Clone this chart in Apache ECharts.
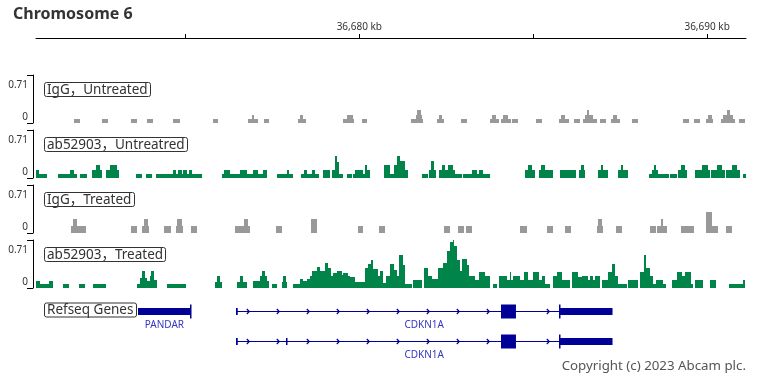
<!DOCTYPE html>
<html><head><meta charset="utf-8">
<script src="https://cdn.jsdelivr.net/npm/echarts@6/dist/echarts.min.js"></script>
<style>html,body{margin:0;padding:0;background:#fff}#c{width:773px;height:384px}</style>
</head><body><div id="c"></div>
<script>
const chartTitle = 'Chromosome 6';
const regionStartKb = 36670.704;
const regionEndKb = 36691.118;
const axisTickKb = [36675, 36680, 36685, 36690];
const axisLabelKb = [36680, 36690];
const axisLabelText = ['36,680 kb', '36,690 kb'];
const trackNames = ['IgG，Untreated', 'ab52903，Untreatred', 'IgG，Treated', 'ab52903，Treated'];
const trackColors = ['#999999', '#00844a', '#999999', '#00844a'];
const trackMax = 0.71;
const yTickValues = [0, 0.71];
const yTickLabels = ['0', '0.71'];
const copyrightText = 'Copyright (c) 2023 Abcam plc.';

// coverage segments: [startKb, endKb, value]
const igGUntreated = [
[36671.80,36671.97,0.06],[36672.59,36672.78,0.06],[36673.44,36673.60,0.06],[36673.89,36674.06,0.06],
[36674.65,36674.84,0.06],[36675.78,36675.95,0.06],
[36676.81,36676.91,0.06],[36676.91,36676.97,0.125],[36676.97,36677.10,0.06],
[36677.26,36677.41,0.06],
[36678.23,36678.29,0.06],[36678.29,36678.39,0.125],[36678.39,36678.47,0.06],
[36679.54,36679.64,0.06],[36679.64,36679.81,0.125],[36679.81,36679.86,0.06],
[36680.07,36680.21,0.06],
[36681.49,36681.62,0.06],[36681.62,36681.67,0.125],[36681.67,36681.76,0.19],[36681.76,36681.79,0.125],[36681.79,36681.84,0.06],
[36682.22,36682.29,0.06],[36682.29,36682.39,0.125],[36682.39,36682.43,0.06],
[36682.92,36683.10,0.06],
[36683.76,36683.82,0.06],[36683.82,36683.92,0.125],[36683.92,36684.02,0.06],
[36684.06,36684.14,0.06],[36684.14,36684.28,0.125],[36684.28,36684.35,0.06],
[36684.38,36684.55,0.06],[36685.08,36685.26,0.06],
[36685.73,36685.80,0.06],[36685.80,36685.91,0.125],[36685.91,36686.03,0.06],
[36686.17,36686.34,0.06],
[36686.44,36686.49,0.06],[36686.49,36686.54,0.125],[36686.54,36686.61,0.19],[36686.61,36686.73,0.125],[36686.73,36686.82,0.06],
[36686.92,36687.09,0.06],
[36687.23,36687.30,0.06],[36687.30,36687.42,0.125],[36687.42,36687.49,0.06],
[36687.83,36688.00,0.06],[36689.30,36689.49,0.06],[36689.62,36689.79,0.06],
[36689.97,36690.03,0.06],[36690.03,36690.13,0.125],[36690.13,36690.18,0.06],
[36690.39,36690.46,0.06],[36690.46,36690.56,0.125],[36690.56,36690.66,0.19],[36690.66,36690.73,0.125],[36690.73,36690.80,0.06],
[36690.91,36691.09,0.06]
];
const ab52903Untreated = [
[36670.70,36670.80,0.12],[36670.80,36671.01,0.06],
[36671.35,36671.51,0.06],
[36671.52,36671.68,0.06],[36671.68,36671.80,0.12],[36671.80,36671.89,0.06],
[36671.97,36672.16,0.06],
[36672.31,36672.42,0.12],[36672.42,36672.54,0.185],[36672.54,36672.59,0.12],
[36672.72,36672.83,0.12],[36672.83,36673.03,0.185],[36673.03,36673.10,0.12],
[36673.58,36673.74,0.06],[36673.87,36674.03,0.06],
[36674.15,36674.65,0.06],[36674.65,36674.73,0.12],[36674.73,36674.80,0.06],[36674.80,36674.89,0.12],[36674.89,36674.94,0.06],[36674.94,36675.04,0.12],[36675.04,36675.11,0.06],[36675.11,36675.18,0.12],[36675.18,36675.47,0.06],
[36676.04,36676.11,0.06],[36676.11,36676.28,0.12],[36676.28,36676.57,0.06],[36676.57,36676.76,0.12],[36676.76,36676.95,0.06],[36676.95,36677.10,0.12],[36677.10,36677.24,0.06],[36677.24,36677.34,0.12],
[36677.62,36677.91,0.06],[36677.91,36677.99,0.12],[36677.99,36678.10,0.06],
[36678.32,36678.41,0.06],[36678.41,36678.50,0.12],[36678.50,36678.63,0.06],[36678.63,36678.73,0.12],[36678.73,36678.84,0.06],
[36678.96,36679.16,0.12],
[36679.21,36679.30,0.12],[36679.30,36679.37,0.32],[36679.37,36679.42,0.24],[36679.42,36679.54,0.06],
[36679.64,36679.78,0.06],
[36679.81,36679.87,0.06],[36679.87,36680.11,0.12],[36680.11,36680.16,0.06],[36680.16,36680.23,0.185],[36680.23,36680.31,0.12],
[36680.71,36680.88,0.185],[36680.88,36681.00,0.06],[36681.00,36681.09,0.185],[36681.09,36681.17,0.32],[36681.17,36681.31,0.25],[36681.31,36681.41,0.12],
[36681.79,36681.98,0.06],
[36682.01,36682.06,0.12],[36682.06,36682.15,0.25],[36682.15,36682.20,0.12],
[36682.30,36682.37,0.12],[36682.37,36682.46,0.185],[36682.46,36682.56,0.12],[36682.56,36682.69,0.185],[36682.69,36682.75,0.12],[36682.75,36682.94,0.06],
[36682.97,36683.23,0.06],[36683.23,36683.38,0.12],[36683.38,36683.44,0.06],[36683.44,36683.56,0.12],[36683.56,36683.76,0.06],
[36684.76,36684.86,0.12],[36684.86,36684.96,0.185],[36684.96,36685.05,0.12],
[36685.17,36685.22,0.12],[36685.22,36685.34,0.185],[36685.34,36685.58,0.12],
[36685.77,36686.23,0.12],
[36686.32,36686.37,0.12],[36686.37,36686.45,0.185],[36686.45,36686.49,0.12],
[36686.87,36686.94,0.12],[36686.94,36687.01,0.185],[36687.01,36687.16,0.12],
[36687.45,36687.51,0.12],[36687.51,36687.58,0.185],[36687.58,36687.73,0.12],
[36688.34,36688.41,0.06],[36688.41,36688.47,0.12],[36688.47,36688.53,0.185],[36688.53,36688.59,0.12],[36688.59,36688.91,0.06],
[36688.93,36689.12,0.06],
[36689.17,36689.25,0.12],[36689.25,36689.36,0.185],[36689.36,36689.41,0.12],
[36689.65,36689.84,0.12],[36689.84,36690.03,0.185],[36690.03,36690.08,0.12],
[36690.11,36690.28,0.12],[36690.28,36690.42,0.185],[36690.42,36690.51,0.12],
[36690.54,36690.71,0.12],[36690.71,36690.85,0.185],[36690.85,36690.94,0.12],
[36691.04,36691.11,0.06]
];
const igGTreated = [
[36671.71,36671.78,0.10],[36671.78,36671.89,0.21],[36671.89,36672.14,0.10],
[36673.44,36673.60,0.10],
[36673.76,36673.82,0.10],[36673.82,36673.92,0.21],[36673.92,36673.95,0.10],
[36674.39,36674.58,0.10],
[36674.72,36674.77,0.10],[36674.77,36674.89,0.21],[36674.89,36674.91,0.10],
[36675.16,36675.32,0.10],
[36676.43,36676.69,0.10],[36676.69,36676.81,0.21],[36676.81,36676.86,0.10],
[36677.60,36677.78,0.10],[36678.61,36678.78,0.21],[36679.95,36680.11,0.10],[36680.57,36680.74,0.10],
[36682.43,36682.61,0.10],[36682.85,36683.01,0.10],[36683.07,36683.23,0.10],[36684.62,36684.81,0.10],
[36685.39,36685.56,0.10],[36685.91,36686.08,0.10],
[36686.82,36686.87,0.10],[36686.87,36686.99,0.21],[36686.99,36687.01,0.10],
[36687.38,36687.54,0.10],[36688.36,36688.53,0.10],
[36688.55,36688.67,0.10],[36688.67,36688.72,0.21],[36688.72,36688.84,0.10],
[36689.25,36689.62,0.10],
[36689.97,36690.13,0.31],[36690.13,36690.30,0.10],
[36690.54,36690.71,0.10]
];
const ab52903Treated = [
[36670.70,36670.82,0.11],[36670.82,36671.08,0.06],[36671.08,36671.20,0.11],
[36671.49,36671.65,0.06],[36671.95,36672.11,0.06],[36672.35,36672.72,0.06],
[36673.62,36673.68,0.06],[36673.68,36673.74,0.15],[36673.74,36673.84,0.25],[36673.84,36673.89,0.15],[36673.89,36673.98,0.10],[36673.98,36674.02,0.18],[36674.02,36674.10,0.25],[36674.10,36674.17,0.12],
[36674.46,36675.02,0.06],
[36675.85,36675.92,0.09],[36675.92,36675.99,0.18],[36675.99,36676.04,0.09],
[36676.49,36676.57,0.09],[36676.57,36676.66,0.18],[36676.66,36676.76,0.09],
[36676.95,36677.14,0.11],[36677.14,36677.20,0.18],[36677.20,36677.29,0.25],[36677.29,36677.35,0.18],[36677.35,36677.41,0.11],
[36677.48,36677.64,0.06],
[36677.77,36677.82,0.09],[36677.82,36677.89,0.18],[36677.89,36677.93,0.09],
[36678.09,36678.29,0.06],[36678.29,36678.39,0.13],[36678.39,36678.49,0.10],[36678.49,36678.58,0.13],
[36678.58,36678.63,0.18],[36678.63,36678.77,0.25],[36678.77,36678.87,0.31],[36678.87,36679.01,0.25],[36679.01,36679.11,0.37],[36679.11,36679.19,0.30],[36679.19,36679.25,0.18],
[36679.25,36679.35,0.22],[36679.35,36679.49,0.25],[36679.49,36679.54,0.19],[36679.54,36679.68,0.22],[36679.68,36679.73,0.18],[36679.73,36679.88,0.16],
[36679.88,36680.16,0.09],
[36680.16,36680.24,0.30],[36680.24,36680.34,0.355],[36680.34,36680.39,0.41],[36680.39,36680.54,0.28],[36680.54,36680.59,0.18],
[36680.59,36680.67,0.25],[36680.67,36680.77,0.075],[36680.77,36680.88,0.18],[36680.88,36681.00,0.355],[36681.00,36681.09,0.27],[36681.09,36681.15,0.18],[36681.15,36681.25,0.49],[36681.25,36681.31,0.34],[36681.31,36681.51,0.06],
[36681.55,36681.79,0.12],
[36681.87,36681.98,0.30],[36681.98,36682.08,0.18],[36682.08,36682.27,0.13],[36682.27,36682.41,0.30],[36682.41,36682.51,0.37],[36682.51,36682.61,0.55],[36682.61,36682.69,0.68],[36682.69,36682.73,0.71],[36682.73,36682.80,0.62],[36682.80,36682.89,0.41],[36682.89,36682.94,0.25],[36682.94,36683.09,0.43],[36683.09,36683.16,0.34],[36683.16,36683.33,0.18],[36683.33,36683.45,0.12],[36683.45,36683.61,0.24],[36683.61,36683.76,0.18],
[36683.84,36683.97,0.06],
[36684.02,36684.24,0.18],[36684.24,36684.33,0.12],[36684.33,36684.36,0.24],[36684.36,36684.41,0.12],[36684.41,36684.62,0.18],[36684.62,36684.73,0.12],[36684.73,36684.86,0.24],[36684.86,36684.99,0.12],[36684.99,36685.17,0.24],[36685.17,36685.24,0.12],[36685.24,36685.34,0.18],[36685.34,36685.48,0.06],
[36685.56,36685.67,0.18],[36685.67,36685.82,0.24],[36685.82,36686.06,0.12],
[36686.11,36686.30,0.24],[36686.30,36686.39,0.16],[36686.39,36686.58,0.18],[36686.58,36686.63,0.12],[36686.63,36686.73,0.18],[36686.73,36686.78,0.12],[36686.78,36686.92,0.18],
[36686.97,36687.16,0.12],[36687.16,36687.26,0.24],[36687.26,36687.35,0.355],[36687.35,36687.45,0.18],[36687.45,36687.69,0.06],
[36687.73,36688.02,0.12],
[36688.07,36688.18,0.24],[36688.18,36688.24,0.49],[36688.24,36688.36,0.30],[36688.36,36688.44,0.18],[36688.44,36688.53,0.06],[36688.53,36688.72,0.12],[36688.72,36688.82,0.06],
[36688.98,36689.12,0.12],[36689.12,36689.27,0.24],[36689.27,36689.36,0.18],[36689.36,36689.53,0.24],[36689.53,36689.60,0.06],
[36689.65,36689.89,0.12],[36690.08,36690.26,0.12],
[36690.64,36691.03,0.06],[36691.03,36691.10,0.12]
];
const trackData = [igGUntreated, ab52903Untreated, igGTreated, ab52903Treated];

// genes
const geneTrackName = 'Refseq Genes';
const geneNames = ['PANDAR', 'CDKN1A', 'CDKN1A'];
const geneRows = [0, 0, 1];
const geneStarts = [36673.63, 36676.46, 36676.46];
const geneEnds = [36675.16, 36687.27, 36687.27];
const geneStrands = ['-', '+', '+'];
const geneExons = [
  [[36673.63, 36675.13, 'utr'], [36675.13, 36675.16, 'cds']],
  [[36676.46, 36676.51, 'utr'], [36684.07, 36684.50, 'cds'], [36685.73, 36685.76, 'cds'], [36685.76, 36687.27, 'utr']],
  [[36676.46, 36676.51, 'utr'], [36677.90, 36677.93, 'utr'], [36684.07, 36684.50, 'cds'], [36685.73, 36685.76, 'cds'], [36685.76, 36687.27, 'utr']]
];

const FONT = "'Noto Sans', 'Noto Sans CJK SC', sans-serif";
const GENE_COLOR = '#000096';
const GENE_LABEL_COLOR = '#3535c0';
const trackTops = [75, 130, 185, 240];
const TRACK_H = 48;

const chart = echarts.init(document.getElementById('c'), null, {renderer: 'canvas'});

function renderCoverage(params, api) {
  const p1 = api.coord([api.value(0), api.value(2)]);
  const p2 = api.coord([api.value(1), 0]);
  const x1 = Math.round(p1[0]), x2 = Math.round(p2[0]);
  const y1 = Math.round(p1[1]), y2 = Math.round(p2[1]);
  return {type: 'rect', shape: {x: x1, y: y1, width: Math.max(1, x2 - x1), height: y2 - y1},
    style: {fill: api.visual('color')}};
}

function renderGene(params, api) {
  const i = api.value(0);
  const yc = Math.round(api.coord([geneStarts[i], geneRows[i] + 0.5])[1]);
  const xs = api.coord([geneStarts[i], 0])[0];
  const xe = api.coord([geneEnds[i], 0])[0];
  const children = [];
  const exonPx = geneExons[i].map(e => [api.coord([e[0], 0])[0], api.coord([e[1], 0])[0], e[2]]);
  if (geneExons[i].length > 2 || geneStrands[i] === '+') {
    children.push({type: 'line', shape: {x1: xs, y1: yc + 0.5, x2: xe, y2: yc + 0.5},
      style: {stroke: GENE_COLOR, lineWidth: 1.2}});
    for (let x = xs + 12.6; x < xe - 4; x += 30) {
      const inside = exonPx.some(e => x >= e[0] - 3 && x <= e[1] + 3);
      if (inside) continue;
      children.push({type: 'polyline', shape: {points: [[x - 2, yc - 2], [x + 0.5, yc + 0.5], [x - 2, yc + 3]]},
        style: {stroke: GENE_COLOR, lineWidth: 1.2, fill: null}});
    }
  }
  exonPx.forEach(e => {
    const h = e[2] === 'cds' ? 14 : 7;
    children.push({type: 'rect', shape: {x: Math.round(e[0]), y: yc + 0.5 - h / 2, width: Math.max(1.5, e[1] - e[0]), height: h},
      style: {fill: GENE_COLOR}});
  });
  children.push({type: 'text', x: (xs + xe) / 2, y: yc + 14,
    style: {text: geneNames[i], fill: GENE_LABEL_COLOR, font: '10px ' + FONT, align: 'center', verticalAlign: 'middle'}});
  return {type: 'group', children};
}

const labelBox = (text, top) => ({text: text, left: 44, top: top, padding: [1, 3, 0, 3], borderColor: '#333', borderWidth: 1, borderRadius: 2,
  backgroundColor: '#fff', textStyle: {fontSize: 13.5, fontWeight: 'normal', color: '#333', fontFamily: FONT, lineHeight: 12}});

const grids = [{left: 36, width: 710, top: 37, height: 1}];
const xAxes = [{
  gridIndex: 0, type: 'value', position: 'top', min: regionStartKb, max: regionEndKb,
  axisLine: {show: true, lineStyle: {color: '#000', width: 1}},
  axisTick: {show: true, customValues: axisTickKb, length: 4, lineStyle: {color: '#000'}},
  axisLabel: {show: true, customValues: axisLabelKb, margin: 5, fontSize: 10, color: '#333', fontFamily: FONT,
    formatter: v => axisLabelText[axisLabelKb.indexOf(v)]},
  splitLine: {show: false}
}];
const yAxes = [{gridIndex: 0, show: false}];
const series = [];
const titles = [{text: chartTitle, left: 8, top: 1, textStyle: {fontSize: 16, fontWeight: 'bold', color: '#333', fontFamily: FONT}}];

trackTops.forEach((top, k) => {
  const gi = k + 1;
  grids.push({left: 36, width: 710, top: top, height: TRACK_H});
  xAxes.push({gridIndex: gi, type: 'value', min: regionStartKb, max: regionEndKb, show: false});
  yAxes.push({gridIndex: gi, type: 'value', min: 0, max: trackMax, interval: trackMax, offset: 3,
    axisLine: {show: true, lineStyle: {color: '#000', width: 1}},
    axisTick: {show: true, length: 6, lineStyle: {color: '#000'}},
    splitLine: {show: false},
    axisLabel: {show: true, margin: 5, fontSize: 10, color: '#333', fontFamily: FONT,
      formatter: v => {
        const idx = v < trackMax / 2 ? 0 : 1;
        return idx === 0 ? '{lo|' + yTickLabels[0] + '}' : '{hi|' + yTickLabels[1] + '}';
      },
      rich: {lo: {fontSize: 10, color: '#333', fontFamily: FONT, padding: [0, 0, 12, 0]},
             hi: {fontSize: 10, color: '#333', fontFamily: FONT, padding: [21, 0, 0, 0]}}}
  });
  series.push({type: 'custom', xAxisIndex: gi, yAxisIndex: gi, renderItem: renderCoverage,
    itemStyle: {color: trackColors[k]}, encode: {x: [0, 1], y: 2}, data: trackData[k], silent: true});
  titles.push(labelBox(trackNames[k], top + 8));
});

grids.push({left: 36, width: 710, top: 296, height: 60});
xAxes.push({gridIndex: 5, type: 'value', min: regionStartKb, max: regionEndKb, show: false});
yAxes.push({gridIndex: 5, type: 'value', min: 0, max: 2, inverse: true, show: false});
series.push({type: 'custom', xAxisIndex: 5, yAxisIndex: 5, renderItem: renderGene,
  data: geneNames.map((n, i) => [i]), encode: {x: -1, y: -1}, silent: true, clip: false});
titles.push(labelBox(geneTrackName, 303.5));
titles.push({text: copyrightText, right: 22, top: 355, textStyle: {fontSize: 13.3, fontWeight: 'normal', color: '#555', fontFamily: FONT}});

chart.setOption({
  animation: false,
  title: titles,
  grid: grids,
  xAxis: xAxes,
  yAxis: yAxes,
  series: series
});
</script></body></html>
